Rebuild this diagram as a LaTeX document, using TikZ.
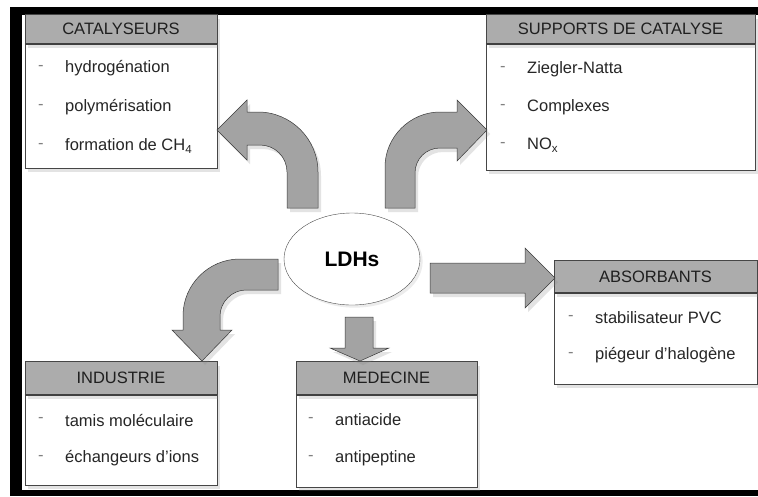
\documentclass[tikz,border=0pt]{standalone}
\usepackage{fontspec}
\setmainfont{Liberation Sans}
\usetikzlibrary{positioning,shapes.geometric,shadows}

\tikzset{
  softshadow/.style={drop shadow={opacity=0.22, shadow xshift=3pt, shadow yshift=-4pt}},
  titlebox/.style={draw=gray!55!black, fill=gray!65, text=black!88, inner sep=0pt,
    font=\fontsize{16.5}{19}\selectfont, softshadow},
  listbox/.style={draw=gray!55!black, fill=white, inner sep=0pt, softshadow},
  item/.style={anchor=west, inner sep=0pt, text=black!85, font=\fontsize{16.5}{19}\selectfont},
  itemdash/.style={anchor=west, inner sep=0pt, text=gray, font=\fontsize{16.5}{19}\selectfont},
  bigarrow/.style={fill=gray!72, draw=gray!45!black, line width=0.5pt, softshadow},
}

\begin{document}
\begin{tikzpicture}[x=1pt,y=-1pt]
    \useasboundingbox (0,0) rectangle (758,496);
    % frame
    \fill[black] (10,7) rectangle (758,496);
    \fill[white] (22,15) rectangle (758,490);

    % centre
    \node[ellipse, draw=gray!60!black, fill=white, minimum width=136pt, minimum height=92pt,
      font=\bfseries\fontsize{21}{24}\selectfont, drop shadow={opacity=0.15}] (ldh) at (352,259) {LDHs};

    % boxes
    \node[listbox, minimum width=192pt, minimum height=124pt] (catlist) at (121,106) {};
    \node[titlebox, minimum width=192pt, minimum height=29pt, above=0pt of catlist] (cat) {CATALYSEURS};
    \node[listbox, minimum width=269pt, minimum height=126pt] (suplist) at (620.5,107) {};
    \node[titlebox, minimum width=269pt, minimum height=29pt, above=0pt of suplist] (sup) {SUPPORTS DE CATALYSE};
    \node[listbox, minimum width=203pt, minimum height=91pt] (abslist) at (655.5,338.5) {};
    \node[titlebox, minimum width=203pt, minimum height=32pt, above=0pt of abslist] (abs) {ABSORBANTS};
    \node[listbox, minimum width=192pt, minimum height=90pt] (indlist) at (121,440) {};
    \node[titlebox, minimum width=192pt, minimum height=33pt, above=0pt of indlist] (ind) {INDUSTRIE};
    \node[listbox, minimum width=181pt, minimum height=92pt] (medlist) at (386.5,441) {};
    \node[titlebox, minimum width=181pt, minimum height=33pt, above=0pt of medlist] (med) {MEDECINE};
    \foreach \b in {cat,sup,abs,ind,med}
      \draw[black!75, line width=1.6pt] (\b.south west) -- (\b.south east);

    % lists
    \foreach \txt [count=\i] in {hydrogénation, polymérisation, {formation de CH\textsubscript{4}}} {
      \node[itemdash] (catd\i) at (38,29+39*\i) {-};
      \node[item] (cat\i) at (65,29+39*\i) {\txt};
    }
    \foreach \txt [count=\i] in {Ziegler-Natta, Complexes, {NO\textsubscript{x}}} {
      \node[itemdash] (supd\i) at (500,31+38*\i) {-};
      \node[item] (sup\i) at (527,31+38*\i) {\txt};
    }
    \foreach \txt [count=\i] in {stabilisateur PVC, piégeur d'halogène} {
      \node[itemdash] (absd\i) at (568,281+37*\i) {-};
      \node[item] (abs\i) at (595,281+37*\i) {\txt};
    }
    \foreach \txt [count=\i] in {tamis moléculaire, échangeurs d'ions} {
      \node[itemdash] (indd\i) at (38,382+38*\i) {-};
      \node[item] (ind\i) at (65,382+38*\i) {\txt};
    }
    \foreach \txt [count=\i] in {antiacide, antipeptine} {
      \node[itemdash] (medd\i) at (308,382+38*\i) {-};
      \node[item] (med\i) at (335,382+38*\i) {\txt};
    }

    % arrows
    \draw[bigarrow] (318,208) -- (318,172) .. controls (318,139) and (291,112) .. (258,112)
      -- (247,112) -- (247,100) -- (217,130) -- (247,160) -- (247,145) -- (260,145)
      .. controls (275,145) and (287,157) .. (287,172) -- (287,208) -- cycle;
    \draw[bigarrow] (385,208) -- (385,167) .. controls (385,137) and (410,112) .. (440,112)
      -- (457,112) -- (457,100) -- (487,130) -- (457,161) -- (457,148) -- (440,148)
      .. controls (426,148) and (415,159) .. (415,173) -- (415,208) -- cycle;
    \draw[bigarrow] (278,259) -- (240,259) .. controls (208.5,259) and (183,284.5) .. (183,316)
      -- (183,330) -- (172,330) -- (202,361) -- (232,330) -- (220,330) -- (220,316)
      .. controls (220,302) and (232,290) .. (246,290) -- (278,290) -- cycle;
    \draw[bigarrow] (345,317) -- (373,317) -- (373,348) -- (389,348) -- (360,361)
      -- (330,348) -- (345,348) -- cycle;
    \draw[bigarrow] (430,263) -- (525,263) -- (525,248) -- (555,278) -- (525,308)
      -- (525,293) -- (430,293) -- cycle;
\end{tikzpicture}
\end{document}
